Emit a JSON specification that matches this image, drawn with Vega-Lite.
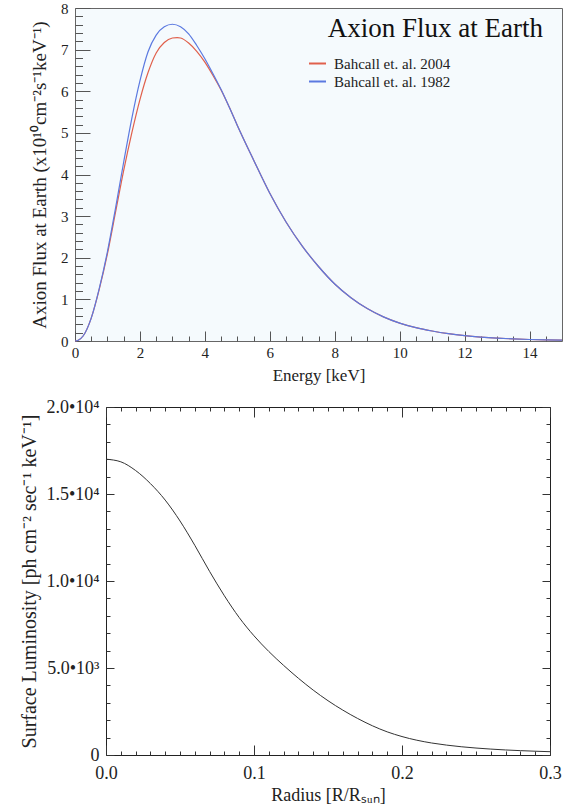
{
  "$schema": "https://vega.github.io/schema/vega-lite/v6.json",
  "padding": {"left": 0, "top": 0, "right": 0, "bottom": 0},
  "background": "white",
  "spacing": 13,
  "config": {
    "font": "Liberation Serif",
    "axis": {"grid": false, "labelFont": "Liberation Serif", "titleFont": "Liberation Serif", "titleFontWeight": "normal", "labelColor": "#222", "titleColor": "#222", "labelFlush": false, "labelOverlap": false},
    "legend": {"labelFont": "Liberation Serif"}
  },
  "datasets": {
    "flux": [
      {"E": 0, "v": 0, "series": "Bahcall et. al. 2004"},
      {"E": 0.1, "v": 0.02, "series": "Bahcall et. al. 2004"},
      {"E": 0.25, "v": 0.12, "series": "Bahcall et. al. 2004"},
      {"E": 0.5, "v": 0.55, "series": "Bahcall et. al. 2004"},
      {"E": 0.75, "v": 1.25, "series": "Bahcall et. al. 2004"},
      {"E": 1, "v": 2.1, "series": "Bahcall et. al. 2004"},
      {"E": 1.25, "v": 3.1, "series": "Bahcall et. al. 2004"},
      {"E": 1.5, "v": 4.1, "series": "Bahcall et. al. 2004"},
      {"E": 1.75, "v": 5.0, "series": "Bahcall et. al. 2004"},
      {"E": 2, "v": 5.8, "series": "Bahcall et. al. 2004"},
      {"E": 2.25, "v": 6.45, "series": "Bahcall et. al. 2004"},
      {"E": 2.5, "v": 6.92, "series": "Bahcall et. al. 2004"},
      {"E": 2.75, "v": 7.17, "series": "Bahcall et. al. 2004"},
      {"E": 3, "v": 7.28, "series": "Bahcall et. al. 2004"},
      {"E": 3.15, "v": 7.29, "series": "Bahcall et. al. 2004"},
      {"E": 3.25, "v": 7.28, "series": "Bahcall et. al. 2004"},
      {"E": 3.5, "v": 7.16, "series": "Bahcall et. al. 2004"},
      {"E": 3.75, "v": 6.96, "series": "Bahcall et. al. 2004"},
      {"E": 4, "v": 6.7, "series": "Bahcall et. al. 2004"},
      {"E": 4.25, "v": 6.38, "series": "Bahcall et. al. 2004"},
      {"E": 4.5, "v": 6.03, "series": "Bahcall et. al. 2004"},
      {"E": 4.75, "v": 5.62, "series": "Bahcall et. al. 2004"},
      {"E": 5, "v": 5.18, "series": "Bahcall et. al. 2004"},
      {"E": 5.5, "v": 4.35, "series": "Bahcall et. al. 2004"},
      {"E": 6, "v": 3.55, "series": "Bahcall et. al. 2004"},
      {"E": 6.5, "v": 2.86, "series": "Bahcall et. al. 2004"},
      {"E": 7, "v": 2.28, "series": "Bahcall et. al. 2004"},
      {"E": 7.5, "v": 1.79, "series": "Bahcall et. al. 2004"},
      {"E": 8, "v": 1.37, "series": "Bahcall et. al. 2004"},
      {"E": 8.5, "v": 1.04, "series": "Bahcall et. al. 2004"},
      {"E": 9, "v": 0.78, "series": "Bahcall et. al. 2004"},
      {"E": 9.5, "v": 0.58, "series": "Bahcall et. al. 2004"},
      {"E": 10, "v": 0.43, "series": "Bahcall et. al. 2004"},
      {"E": 10.5, "v": 0.32, "series": "Bahcall et. al. 2004"},
      {"E": 11, "v": 0.24, "series": "Bahcall et. al. 2004"},
      {"E": 11.5, "v": 0.177, "series": "Bahcall et. al. 2004"},
      {"E": 12, "v": 0.13, "series": "Bahcall et. al. 2004"},
      {"E": 12.5, "v": 0.095, "series": "Bahcall et. al. 2004"},
      {"E": 13, "v": 0.069, "series": "Bahcall et. al. 2004"},
      {"E": 13.5, "v": 0.05, "series": "Bahcall et. al. 2004"},
      {"E": 14, "v": 0.036, "series": "Bahcall et. al. 2004"},
      {"E": 14.5, "v": 0.026, "series": "Bahcall et. al. 2004"},
      {"E": 15, "v": 0.019, "series": "Bahcall et. al. 2004"},
      {"E": 0, "v": 0, "series": "Bahcall et. al. 1982"},
      {"E": 0.1, "v": 0.02, "series": "Bahcall et. al. 1982"},
      {"E": 0.25, "v": 0.12, "series": "Bahcall et. al. 1982"},
      {"E": 0.5, "v": 0.55, "series": "Bahcall et. al. 1982"},
      {"E": 0.75, "v": 1.27, "series": "Bahcall et. al. 1982"},
      {"E": 1, "v": 2.15, "series": "Bahcall et. al. 1982"},
      {"E": 1.25, "v": 3.2, "series": "Bahcall et. al. 1982"},
      {"E": 1.5, "v": 4.3, "series": "Bahcall et. al. 1982"},
      {"E": 1.75, "v": 5.35, "series": "Bahcall et. al. 1982"},
      {"E": 2, "v": 6.25, "series": "Bahcall et. al. 1982"},
      {"E": 2.25, "v": 6.95, "series": "Bahcall et. al. 1982"},
      {"E": 2.5, "v": 7.35, "series": "Bahcall et. al. 1982"},
      {"E": 2.75, "v": 7.55, "series": "Bahcall et. al. 1982"},
      {"E": 3, "v": 7.61, "series": "Bahcall et. al. 1982"},
      {"E": 3.25, "v": 7.55, "series": "Bahcall et. al. 1982"},
      {"E": 3.5, "v": 7.38, "series": "Bahcall et. al. 1982"},
      {"E": 3.75, "v": 7.1, "series": "Bahcall et. al. 1982"},
      {"E": 4, "v": 6.78, "series": "Bahcall et. al. 1982"},
      {"E": 4.25, "v": 6.42, "series": "Bahcall et. al. 1982"},
      {"E": 4.5, "v": 6.04, "series": "Bahcall et. al. 1982"},
      {"E": 4.75, "v": 5.62, "series": "Bahcall et. al. 1982"},
      {"E": 5, "v": 5.18, "series": "Bahcall et. al. 1982"},
      {"E": 5.5, "v": 4.35, "series": "Bahcall et. al. 1982"},
      {"E": 6, "v": 3.55, "series": "Bahcall et. al. 1982"},
      {"E": 6.5, "v": 2.86, "series": "Bahcall et. al. 1982"},
      {"E": 7, "v": 2.28, "series": "Bahcall et. al. 1982"},
      {"E": 7.5, "v": 1.79, "series": "Bahcall et. al. 1982"},
      {"E": 8, "v": 1.37, "series": "Bahcall et. al. 1982"},
      {"E": 8.5, "v": 1.04, "series": "Bahcall et. al. 1982"},
      {"E": 9, "v": 0.78, "series": "Bahcall et. al. 1982"},
      {"E": 9.5, "v": 0.58, "series": "Bahcall et. al. 1982"},
      {"E": 10, "v": 0.43, "series": "Bahcall et. al. 1982"},
      {"E": 10.5, "v": 0.32, "series": "Bahcall et. al. 1982"},
      {"E": 11, "v": 0.24, "series": "Bahcall et. al. 1982"},
      {"E": 11.5, "v": 0.177, "series": "Bahcall et. al. 1982"},
      {"E": 12, "v": 0.13, "series": "Bahcall et. al. 1982"},
      {"E": 12.5, "v": 0.095, "series": "Bahcall et. al. 1982"},
      {"E": 13, "v": 0.069, "series": "Bahcall et. al. 1982"},
      {"E": 13.5, "v": 0.05, "series": "Bahcall et. al. 1982"},
      {"E": 14, "v": 0.036, "series": "Bahcall et. al. 1982"},
      {"E": 14.5, "v": 0.026, "series": "Bahcall et. al. 1982"},
      {"E": 15, "v": 0.019, "series": "Bahcall et. al. 1982"}
    ],
    "lum": [
      {"r": 0, "L": 17000}, {"r": 0.01, "L": 16850}, {"r": 0.02, "L": 16350},
      {"r": 0.03, "L": 15600}, {"r": 0.04, "L": 14650}, {"r": 0.05, "L": 13450},
      {"r": 0.06, "L": 12050}, {"r": 0.07, "L": 10550}, {"r": 0.08, "L": 9150},
      {"r": 0.09, "L": 7900}, {"r": 0.1, "L": 6850}, {"r": 0.11, "L": 5950},
      {"r": 0.12, "L": 5150}, {"r": 0.13, "L": 4410}, {"r": 0.14, "L": 3730},
      {"r": 0.15, "L": 3120}, {"r": 0.16, "L": 2580}, {"r": 0.17, "L": 2100},
      {"r": 0.18, "L": 1680}, {"r": 0.19, "L": 1330}, {"r": 0.2, "L": 1060},
      {"r": 0.21, "L": 850}, {"r": 0.22, "L": 690}, {"r": 0.23, "L": 570},
      {"r": 0.24, "L": 475}, {"r": 0.25, "L": 400}, {"r": 0.26, "L": 340},
      {"r": 0.27, "L": 290}, {"r": 0.28, "L": 250}, {"r": 0.29, "L": 218},
      {"r": 0.3, "L": 190}
    ]
  },
  "vconcat": [
    {
      "spacing": 23,
      "hconcat": [
        {
          "width": 1,
          "height": 1,
          "view": {"stroke": null},
          "data": {"values": [{"a": 0}]},
          "mark": {"type": "point", "opacity": 0},
          "encoding": {}
        },
        {
          "width": 487,
          "height": 333,
          "view": {"fill": "#f5fafd", "stroke": "#666", "strokeWidth": 1},
          "title": {"text": "Axion Flux at Earth", "anchor": "end", "frame": "group", "orient": "top", "fontSize": 27, "fontWeight": "normal", "font": "Liberation Serif", "color": "#111", "baseline": "top", "offset": 0, "dy": 42, "dx": -19},
          "data": {"name": "flux"},
          "layer": [
            {
              "mark": {"type": "line", "strokeWidth": 1.2, "interpolate": "monotone"},
              "encoding": {
                "x": {"field": "E", "type": "quantitative", "scale": {"domain": [0, 15], "nice": false},
                  "axis": {"orient": "bottom", "values": [0, 2, 4, 6, 8, 10, 12, 14], "tickSize": -10, "tickColor": "#555", "domain": false, "labelFontSize": 15, "labelPadding": 14, "title": "Energy [keV]", "titleFontSize": 17, "titlePadding": 7}},
                "y": {"field": "v", "type": "quantitative", "scale": {"domain": [0, 8], "nice": false},
                  "axis": {"orient": "left", "values": [0, 1, 2, 3, 4, 5, 6, 7, 8], "tickSize": -15, "tickColor": "#555", "domain": false, "labelFontSize": 15, "labelPadding": 22, "title": "Axion Flux at Earth (x10¹⁰cm⁻²s⁻¹keV⁻¹)", "titleFontSize": 19, "titlePadding": 11}},
                "color": {"field": "series", "type": "nominal",
                  "scale": {"domain": ["Bahcall et. al. 2004", "Bahcall et. al. 1982"], "range": ["#e0604c", "#5b79e0"]},
                  "legend": {"orient": "none", "legendX": 305, "legendY": 46, "title": null, "labelFontSize": 15, "labelColor": "#222", "symbolType": "stroke", "symbolSize": 289, "symbolStrokeWidth": 2, "rowPadding": 0, "labelOffset": 7, "padding": 0}}
              }
            },
            {
              "mark": {"type": "line", "opacity": 0},
              "encoding": {
                "x": {"field": "E", "type": "quantitative",
                  "axis": {"orient": "bottom", "values": [0.5, 1, 1.5, 2.5, 3, 3.5, 4.5, 5, 5.5, 6.5, 7, 7.5, 8.5, 9, 9.5, 10.5, 11, 11.5, 12.5, 13, 13.5, 14.5], "tickSize": -5, "tickColor": "#555", "domain": false, "labels": false, "title": null}},
                "y": {"field": "v", "type": "quantitative",
                  "axis": {"orient": "left", "values": [0.2, 0.4, 0.6, 0.8, 1.2, 1.4, 1.6, 1.8, 2.2, 2.4, 2.6, 2.8, 3.2, 3.4, 3.6, 3.8, 4.2, 4.4, 4.6, 4.8, 5.2, 5.4, 5.6, 5.8, 6.2, 6.4, 6.6, 6.8, 7.2, 7.4, 7.6, 7.8], "tickSize": -7.5, "tickColor": "#555", "domain": false, "labels": false, "title": null}},
                "detail": {"field": "series"}
              }
            }
          ],
          "resolve": {"axis": {"x": "independent", "y": "independent"}}
        }
      ]
    },
    {
      "spacing": 12,
      "hconcat": [
        {
          "width": 1,
          "height": 1,
          "view": {"stroke": null},
          "data": {"values": [{"a": 0}]},
          "mark": {"type": "point", "opacity": 0},
          "encoding": {}
        },
        {
          "width": 444,
          "height": 348,
          "view": {"fill": "white", "stroke": "#222", "strokeWidth": 1},
          "data": {"name": "lum"},
          "layer": [
            {
              "mark": {"type": "line", "color": "#333", "strokeWidth": 1, "interpolate": "monotone"},
              "encoding": {
                "x": {"field": "r", "type": "quantitative", "scale": {"domain": [0, 0.3], "nice": false},
                  "axis": {"orient": "bottom", "values": [0, 0.1, 0.2, 0.3], "format": ".1f", "tickSize": -10, "tickColor": "#333", "domain": false, "labelFontSize": 18, "labelPadding": 19, "title": "Radius [R/Rₛᵤₙ]", "titleFontSize": 18, "titlePadding": 4}},
                "y": {"field": "L", "type": "quantitative", "scale": {"domain": [0, 20000], "nice": false},
                  "axis": {"orient": "left", "values": [0, 5000, 10000, 15000, 20000], "labelExpr": "datum.value == 20000 ? '2.0•10⁴' : datum.value == 15000 ? '1.5•10⁴' : datum.value == 10000 ? '1.0•10⁴' : datum.value == 5000 ? '5.0•10³' : '0'", "tickSize": -8, "tickColor": "#333", "domain": false, "labelFontSize": 18, "labelPadding": 15, "title": "Surface Luminosity [ph cm⁻² sec⁻¹ keV⁻¹]", "titleFontSize": 20, "titlePadding": 6}}
              }
            },
            {
              "mark": {"type": "line", "opacity": 0},
              "encoding": {
                "x": {"field": "r", "type": "quantitative",
                  "axis": {"orient": "bottom", "values": [0.01, 0.02, 0.03, 0.04, 0.05, 0.06, 0.07, 0.08, 0.09, 0.11, 0.12, 0.13, 0.14, 0.15, 0.16, 0.17, 0.18, 0.19, 0.21, 0.22, 0.23, 0.24, 0.25, 0.26, 0.27, 0.28, 0.29], "tickSize": -4, "tickColor": "#333", "domain": false, "labels": false, "title": null}},
                "y": {"field": "L", "type": "quantitative",
                  "axis": {"orient": "left", "values": [1000, 2000, 3000, 4000, 6000, 7000, 8000, 9000, 11000, 12000, 13000, 14000, 16000, 17000, 18000, 19000], "tickSize": -4, "tickColor": "#333", "domain": false, "labels": false, "title": null}}
              }
            },
            {
              "mark": {"type": "line", "opacity": 0},
              "encoding": {
                "x": {"field": "r", "type": "quantitative",
                  "axis": {"orient": "top", "values": [0, 0.1, 0.2, 0.3], "tickSize": -10, "tickColor": "#333", "domain": false, "labels": false, "title": null}},
                "y": {"field": "L", "type": "quantitative",
                  "axis": {"orient": "right", "values": [0, 5000, 10000, 15000, 20000], "tickSize": -8, "tickColor": "#333", "domain": false, "labels": false, "title": null}}
              }
            },
            {
              "mark": {"type": "line", "opacity": 0},
              "encoding": {
                "x": {"field": "r", "type": "quantitative",
                  "axis": {"orient": "top", "values": [0.01, 0.02, 0.03, 0.04, 0.05, 0.06, 0.07, 0.08, 0.09, 0.11, 0.12, 0.13, 0.14, 0.15, 0.16, 0.17, 0.18, 0.19, 0.21, 0.22, 0.23, 0.24, 0.25, 0.26, 0.27, 0.28, 0.29], "tickSize": -4, "tickColor": "#333", "domain": false, "labels": false, "title": null}},
                "y": {"field": "L", "type": "quantitative",
                  "axis": {"orient": "right", "values": [1000, 2000, 3000, 4000, 6000, 7000, 8000, 9000, 11000, 12000, 13000, 14000, 16000, 17000, 18000, 19000], "tickSize": -4, "tickColor": "#333", "domain": false, "labels": false, "title": null}}
              }
            }
          ],
          "resolve": {"axis": {"x": "independent", "y": "independent"}}
        }
      ]
    }
  ]
}
